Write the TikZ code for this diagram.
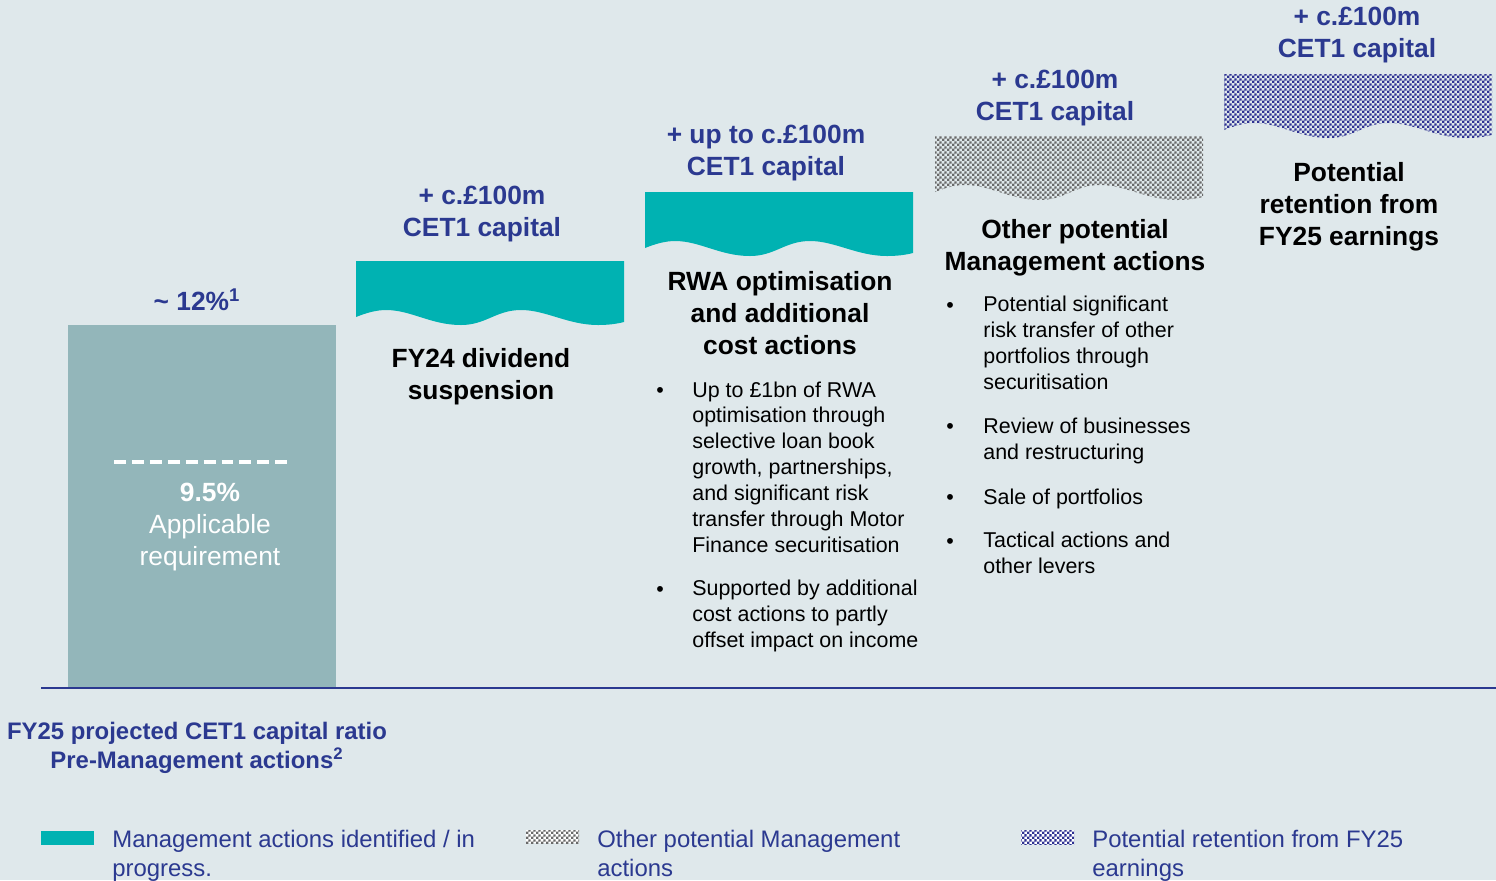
\documentclass[tikz,border=0pt]{standalone}
\usepackage{fontspec}
\setmainfont{Liberation Sans}
\usetikzlibrary{patterns}
\definecolor{bgcol}{RGB}{223,232,235}
\definecolor{navy}{RGB}{43,57,144}
\definecolor{tealbar}{RGB}{0,178,178}
\definecolor{greybar}{RGB}{147,182,186}
\definecolor{checkgrey}{RGB}{105,105,105}
\definecolor{checknavy}{RGB}{46,49,146}
\pgfdeclarepatternformonly{finechecks}{\pgfqpoint{0pt}{0pt}}{\pgfqpoint{3pt}{3pt}}{\pgfqpoint{3pt}{3pt}}{%
  \pgfpathrectangle{\pgfqpoint{0pt}{0pt}}{\pgfqpoint{1.5pt}{1.5pt}}%
  \pgfpathrectangle{\pgfqpoint{1.5pt}{1.5pt}}{\pgfqpoint{1.5pt}{1.5pt}}%
  \pgfusepath{fill}}
\tikzset{
  headfont/.style={font=\fontsize{15}{18.2}\selectfont\bfseries},
  capitaltext/.style={headfont, text=navy, align=center},
  actiontitle/.style={headfont, text=black, align=center},
  bulletfont/.style={font=\fontsize{12.2}{14.7}\selectfont, text=black},
  % multi-line nodes: base = baseline of the last line
  bullettext/.style={bulletfont, align=left, anchor=base west, inner sep=0pt},
  bulletdot/.style={bulletfont, anchor=base, inner sep=0pt},
  legendtext/.style={font=\fontsize{13.6}{16.5}\selectfont, text=navy, align=left, anchor=base west, inner sep=0pt},
  teal fill/.style={fill=tealbar},
  grey checks/.style={preaction={fill=white}, pattern=finechecks, pattern color=checkgrey},
  navy checks/.style={preaction={fill=white}, pattern=finechecks, pattern color=checknavy},
  wavebar/.pic={
    \path[pic actions] (0,0) -- (268,0) -- (268,61)
      .. controls (260,63) and (252,64) .. (242,64)
      .. controls (212,64) and (190,49) .. (165,49)
      .. controls (140,49) and (130,64) .. (105,64)
      .. controls (75,64) and (55,49) .. (30,49)
      .. controls (20,49) and (10,52) .. (0,56) -- cycle;
  }
}
\begin{document}
\begin{tikzpicture}[x=0.02cm, y=-0.02cm]
\fill [bgcol] (0,0) rectangle (1496,880);
\useasboundingbox (0,0) rectangle (1496,880);
% starting ratio
\fill [greybar] (68,325) rectangle (336,688);
\coordinate (dashL) at (114,462);
\coordinate (dashR) at (292,462);
\draw [white, line width=2.3pt, dash pattern=on 6.8pt off 3.4pt] (dashL) -- (dashR);
\node (start) at (197,300) [headfont, text=navy] {\textasciitilde{} 12\%\textsuperscript{1}};
\node (req) at (210,527) [headfont, text=white, align=center] {9.5\%\\\mdseries Applicable\\\mdseries requirement};
% baseline
\coordinate (axisL) at (41,688);
\coordinate (axisR) at (1496,688);
\draw [navy, line width=1.1pt] (axisL) -- (axisR);
\node (ratio) at (197,748) [font=\fontsize{13.6}{16.5}\selectfont\bfseries, text=navy, align=center] {FY25 projected CET1 capital ratio\\Pre-Management actions\textsuperscript{2}};
% dividend suspension
\pic (divbar) at (356,261) [teal fill] {wavebar};
\node (divcap) at (482,214) [capitaltext] {+ c.£100m\\CET1 capital};
\node (divtitle) at (481,377) [actiontitle] {FY24 dividend\\suspension};
% RWA optimisation
\pic (rwabar) at (645,192) [teal fill] {wavebar};
\node (rwacap) at (766,153) [capitaltext] {+ up to c.£100m\\CET1 capital};
\node (rwatitle) at (780,313) [actiontitle] {RWA optimisation\\and additional\\cost actions};
\node (rwadot1) at (660,397) [bulletdot] {•};
\node (rwaitem1) at (692,552) [bullettext] {Up to £1bn of RWA\\optimisation through\\selective loan book\\growth, partnerships,\\and significant risk\\transfer through Motor\\Finance securitisation};
\node (rwadot2) at (660,596) [bulletdot] {•};
\node (rwaitem2) at (692,647) [bullettext] {Supported by additional\\cost actions to partly\\offset impact on income};
% other management actions
\pic (otherbar) at (935,136) [grey checks] {wavebar};
\node (othercap) at (1055,98) [capitaltext] {+ c.£100m\\CET1 capital};
\node (othertitle) at (1075,248) [actiontitle] {Other potential\\Management actions};
\node (otherdot1) at (950,312) [bulletdot] {•};
\node (otheritem1) at (983,389) [bullettext] {Potential significant\\risk transfer of other\\portfolios through\\securitisation};
\node (otherdot2) at (950,433) [bulletdot] {•};
\node (otheritem2) at (983,459) [bullettext] {Review of businesses\\and restructuring};
\node (otherdot3) at (950,504) [bulletdot] {•};
\node (otheritem3) at (983,504) [bullettext] {Sale of portfolios};
\node (otherdot4) at (950,548) [bulletdot] {•};
\node (otheritem4) at (983,573) [bullettext] {Tactical actions and\\other levers};
% retention
\pic (retbar) at (1224,74) [navy checks] {wavebar};
\node (retcap) at (1357,35) [capitaltext] {+ c.£100m\\CET1 capital};
\node (rettitle) at (1349,207) [actiontitle] {Potential\\retention from\\FY25 earnings};
% legend
\fill [tealbar] (41,831) rectangle (94,845);
\node (legteal) at (112,876) [legendtext] {Management actions identified / in\\progress.};
\fill [grey checks] (526,830) rectangle (579,843);
\node (leggrey) at (597,876) [legendtext] {Other potential Management\\actions};
\fill [navy checks] (1021,830) rectangle (1074,844);
\node (legnavy) at (1092,876) [legendtext] {Potential retention from FY25\\earnings};
\end{tikzpicture}
\end{document}
